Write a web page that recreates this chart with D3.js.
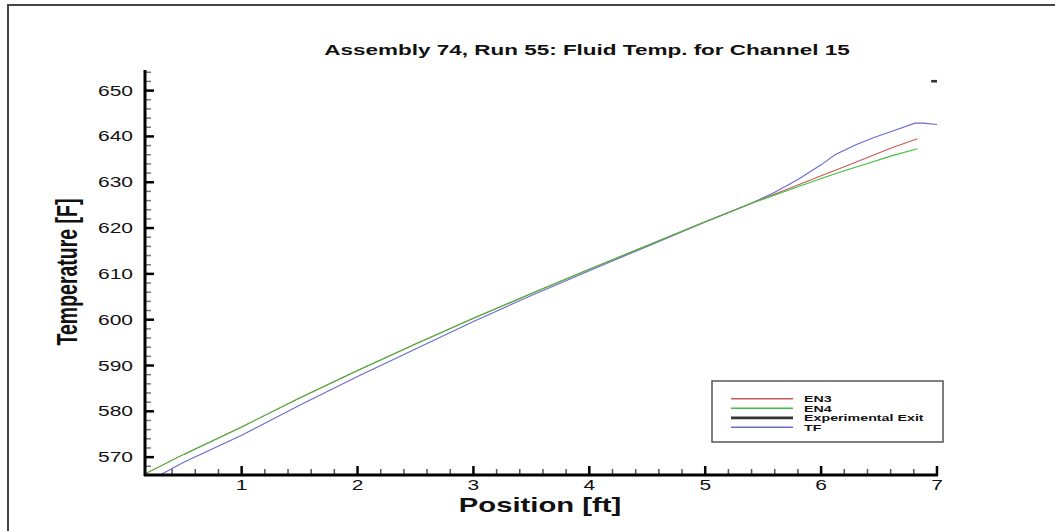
<!DOCTYPE html>
<html>
<head>
<meta charset="utf-8">
<script src="https://cdn.jsdelivr.net/npm/d3@7"></script>
<style>
  body { margin: 0; background: #fff; }
  svg { display: block; font-family: "Liberation Sans", Arial, sans-serif; }
</style>
</head>
<body>
<svg id="chart" width="1055" height="531"></svg>
<script>
// positions along the channel [ft]
var posEN = [0.17, 0.5, 1, 1.5, 2, 2.5, 3, 3.5, 4, 4.5, 5, 5.4, 5.8, 6, 6.2, 6.4, 6.6, 6.83];
var en3 = [566.4, 570.6, 576.6, 582.9, 588.9, 594.7, 600.3, 605.7, 611.0, 616.2, 621.4, 625.4, 629.4, 631.4, 633.4, 635.4, 637.4, 639.5];
var en4 = [566.4, 570.6, 576.6, 582.9, 588.9, 594.7, 600.3, 605.7, 611.0, 616.2, 621.4, 625.4, 629.0, 630.8, 632.5, 634.1, 635.7, 637.3];
var posTF = [0.17, 0.5, 1, 1.5, 2, 2.5, 3, 3.5, 4, 4.5, 5, 5.4, 5.6, 5.8, 6, 6.12, 6.3, 6.45, 6.6, 6.81, 6.88, 7.0];
var tf = [564.4, 568.9, 574.8, 581.3, 587.6, 593.6, 599.6, 605.3, 610.7, 616.0, 621.3, 625.4, 627.8, 630.6, 633.8, 636.0, 638.2, 639.7, 641.0, 642.9, 642.9, 642.6];
var posExp = [6.95, 7.0];
var expExit = [652.05, 652.05];

var xTicks = [1, 2, 3, 4, 5, 6, 7];
var yTicks = [570, 580, 590, 600, 610, 620, 630, 640, 650];

var seriesNames = ["EN3", "EN4", "Experimental Exit", "TF"];
var seriesColors = ["#c85a5a", "#3fbf3f", "#333333", "#6a6ad0"];
var seriesWidths = [1.1, 1.1, 2.6, 1.1];

var SX = 1.5; // the whole picture is stretched horizontally

var svg = d3.select("#chart");
var x = d3.scaleLinear().domain([0.166, 7.0]).range([145, 937]);
var y = d3.scaleLinear().domain([566.1, 654.5]).range([475, 70]);

function wideText(g, px, py, str, size, weight, anchor, extra) {
  return g.append("text")
    .attr("transform", "translate(" + px + "," + py + ") scale(" + SX + ",1)" + (extra || ""))
    .attr("font-size", size)
    .attr("font-weight", weight)
    .attr("text-anchor", anchor)
    .attr("fill", "#111")
    .text(str);
}

// frame of the picture
svg.append("path").attr("d", "M8,531V5H1055").attr("fill", "none")
  .attr("stroke", "#444").attr("stroke-width", 2);

svg.append("clipPath").attr("id", "plotclip").append("rect")
  .attr("x", 145).attr("y", 60).attr("width", 800).attr("height", 415);

// curves
var line = d3.line().x(function(d) { return x(d[0]); }).y(function(d) { return y(d[1]); });
var curves = svg.append("g").attr("clip-path", "url(#plotclip)");
var seriesData = [
  d3.zip(posEN, en3),
  d3.zip(posEN, en4),
  d3.zip(posExp, expExit),
  d3.zip(posTF, tf)
];
var order = [3, 0, 1, 2];
order.forEach(function(i) {
  curves.append("path")
    .datum(seriesData[i])
    .attr("d", line)
    .attr("fill", "none")
    .attr("stroke", seriesColors[i])
    .attr("stroke-width", seriesWidths[i]);
});

// minor ticks
var axes = svg.append("g");
var yMinor = d3.range(568, 655, 2).filter(function(v) { return v % 10 !== 0; });
axes.selectAll(".yminor").data(yMinor).enter().append("line")
  .attr("x1", 145).attr("x2", 151)
  .attr("y1", function(d) { return y(d); }).attr("y2", function(d) { return y(d); })
  .attr("stroke", "#777").attr("stroke-width", 1.5);
var xMinor = d3.range(2, 70, 2).map(function(v) { return v / 10; })
  .filter(function(v) { return Math.abs(v - Math.round(v)) > 0.01 && x(v) > 150; });
axes.selectAll(".xminor").data(xMinor).enter().append("line")
  .attr("y1", 475).attr("y2", 469)
  .attr("x1", function(d) { return x(d); }).attr("x2", function(d) { return x(d); })
  .attr("stroke", "#555").attr("stroke-width", 1.5);

// major ticks
axes.selectAll(".ymajor").data(yTicks).enter().append("line")
  .attr("x1", 145).attr("x2", 154)
  .attr("y1", function(d) { return y(d); }).attr("y2", function(d) { return y(d); })
  .attr("stroke", "#000").attr("stroke-width", 2.5);
axes.selectAll(".xmajor").data(xTicks).enter().append("line")
  .attr("y1", 475).attr("y2", 466)
  .attr("x1", function(d) { return x(d); }).attr("x2", function(d) { return x(d); })
  .attr("stroke", "#000").attr("stroke-width", 2.5);

// axis lines
axes.append("line").attr("x1", 145).attr("x2", 145).attr("y1", 70).attr("y2", 476)
  .attr("stroke", "#000").attr("stroke-width", 3);
axes.append("line").attr("x1", 144).attr("x2", x(7) + 1).attr("y1", 475).attr("y2", 475)
  .attr("stroke", "#000").attr("stroke-width", 3);

// tick labels
yTicks.forEach(function(v) {
  wideText(svg, 133, y(v) + 5, String(v), 14, "normal", "end");
});
xTicks.forEach(function(v) {
  wideText(svg, x(v), 490, String(v), 14, "normal", "middle");
});

// titles
wideText(svg, 587, 55, "Assembly 74, Run 55: Fluid Temp. for Channel 15", 15, "bold", "middle");
wideText(svg, 540, 512, "Position [ft]", 19.5, "bold", "middle");
wideText(svg, 77, 272, "Temperature [F]", 19.5, "bold", "middle", " rotate(-90)");

// legend
var leg = svg.append("g");
leg.append("rect").attr("x", 712).attr("y", 381).attr("width", 231).attr("height", 61)
  .attr("fill", "#fff").attr("stroke", "#555").attr("stroke-width", 1.5);
var legRows = [398.7, 408.2, 417.9, 427.3];
seriesNames.forEach(function(name, i) {
  leg.append("line").attr("x1", 731).attr("x2", 793)
    .attr("y1", legRows[i]).attr("y2", legRows[i])
    .attr("stroke", seriesColors[i]).attr("stroke-width", seriesWidths[i] + 0.3);
  wideText(leg, 804, legRows[i] + 3.3, name, 9.5, "bold", "start");
});
</script>
</body>
</html>
